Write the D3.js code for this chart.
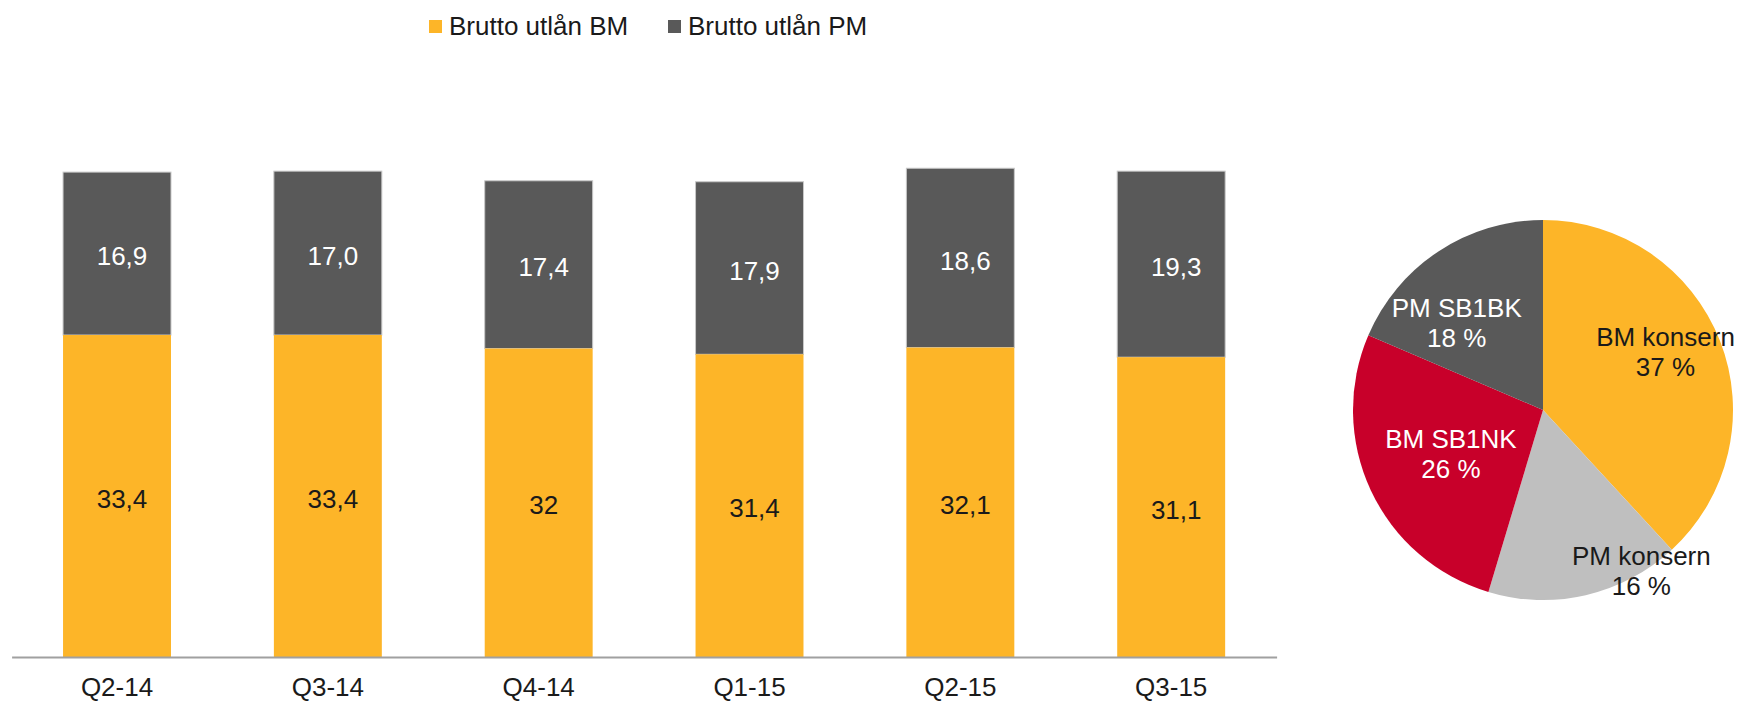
<!DOCTYPE html>
<html>
<head>
<meta charset="utf-8">
<script src="https://cdn.jsdelivr.net/npm/d3@7"></script>
<style>
  body { margin: 0; background: #fff; }
  svg { display: block; font-family: 'Liberation Sans', Arial, sans-serif; }
</style>
</head>
<body>
<main></main>
<script>
// data
const quarters = ['Q2-14', 'Q3-14', 'Q4-14', 'Q1-15', 'Q2-15', 'Q3-15']
const bruttoBM = [33.4, 33.4, 32, 31.4, 32.1, 31.1]
const bruttoPM = [16.9, 17.0, 17.4, 17.9, 18.6, 19.3]
const bmLabels = ['33,4', '33,4', '32', '31,4', '32,1', '31,1']
const pmLabels = ['16,9', '17,0', '17,4', '17,9', '18,6', '19,3']
const seriesNames = ['Brutto utlån BM', 'Brutto utlån PM']
const pieNames = ['BM konsern', 'PM konsern', 'BM SB1NK', 'PM SB1BK']
const pieValues = [37, 16, 26, 18]

const colors = { bm: '#fdb528', pm: '#595959', red: '#c8002a', light: '#bfbfbf' }
const pieColors = [colors.bm, colors.light, colors.red, colors.pm]
const pieTextColors = ['#1a1a1a', '#1a1a1a', '#fff', '#fff']
// label nudges from arc centroid (layout only)
const pieLabelNudge = [[34, -24], [77, 67], [-6, 3], [-34, -9]]

const sizes = { width: 1740, height: 703, font: 26 }

const svg = d3.select('main')
  .append('svg')
  .attr('width', sizes.width)
  .attr('height', sizes.height)

// scales
const x = d3.scaleBand()
  .domain(quarters)
  .range([11.6, 1276.6])
  .paddingInner(0.488)
  .paddingOuter(0.244)
const y = d3.scaleLinear()
  .domain([0, 60])
  .range([657, 657 - 60 * 9.64])

const stacked = quarters.map((q, i) => ({ q, bm: bruttoBM[i], pm: bruttoPM[i], bmLabel: bmLabels[i], pmLabel: pmLabels[i] }))

const bars = svg.append('g')
const groups = bars.selectAll('.bar')
  .data(stacked)
  .enter()
  .append('g')
  .attr('class', 'bar')

groups.append('rect')
  .attr('x', d => x(d.q))
  .attr('width', x.bandwidth())
  .attr('y', d => y(d.bm + d.pm))
  .attr('height', d => y(d.bm) - y(d.bm + d.pm))
  .attr('fill', colors.pm)
  .attr('stroke', '#c8c8c8')
  .attr('stroke-width', 1)

groups.append('rect')
  .attr('x', d => x(d.q))
  .attr('width', x.bandwidth())
  .attr('y', d => y(d.bm))
  .attr('height', d => y(0) - y(d.bm))
  .attr('fill', colors.bm)

groups.append('text')
  .attr('x', d => x(d.q) + x.bandwidth() / 2 + 5)
  .attr('y', d => (y(d.bm) + y(d.bm + d.pm)) / 2)
  .attr('dy', '0.45em')
  .attr('text-anchor', 'middle')
  .attr('fill', '#fff')
  .style('font-size', sizes.font + 'px')
  .text(d => d.pmLabel)

groups.append('text')
  .attr('x', d => x(d.q) + x.bandwidth() / 2 + 5)
  .attr('y', d => (y(0) + y(d.bm)) / 2)
  .attr('dy', '0.45em')
  .attr('text-anchor', 'middle')
  .attr('fill', '#1a1a1a')
  .style('font-size', sizes.font + 'px')
  .text(d => d.bmLabel)

// x axis
const xAxis = svg.append('g')
  .attr('transform', `translate(0,${y(0)})`)
  .call(d3.axisBottom(x).tickSize(0).tickPadding(21))
xAxis.select('.domain')
  .attr('stroke', '#a0a0a0')
  .attr('stroke-width', 2)
xAxis.selectAll('text')
  .attr('fill', '#1a1a1a')
  .style('font-size', sizes.font + 'px')
  .style('font-family', "'Liberation Sans', Arial, sans-serif")

// legend
const legendX = [429, 668]
const legend = svg.append('g')
seriesNames.forEach((name, i) => {
  legend.append('rect')
    .attr('x', legendX[i])
    .attr('y', 20)
    .attr('width', 13)
    .attr('height', 13)
    .attr('fill', i === 0 ? colors.bm : colors.pm)
  legend.append('text')
    .attr('x', legendX[i] + 20)
    .attr('y', 35)
    .attr('fill', '#1a1a1a')
    .style('font-size', sizes.font + 'px')
    .text(name)
})

// pie
const radius = 190
const pieG = svg.append('g')
  .attr('transform', 'translate(1543,410)')
const pie = d3.pie().sort(null).value(d => d.value)
const arcs = pie(pieNames.map((name, i) => ({ name, value: pieValues[i], i })))
const arc = d3.arc().innerRadius(0).outerRadius(radius)

pieG.selectAll('path')
  .data(arcs)
  .enter()
  .append('path')
  .attr('d', arc)
  .attr('fill', d => pieColors[d.data.i])

const labels = pieG.selectAll('.pieLabel')
  .data(arcs)
  .enter()
  .append('text')
  .attr('class', 'pieLabel')
  .attr('text-anchor', 'middle')
  .attr('fill', d => pieTextColors[d.data.i])
  .style('font-size', sizes.font + 'px')
  .attr('transform', d => {
    const c = arc.centroid(d)
    const n = pieLabelNudge[d.data.i]
    return `translate(${c[0] + n[0]},${c[1] + n[1]})`
  })
labels.append('tspan')
  .attr('x', 0)
  .attr('y', -5)
  .text(d => d.data.name)
labels.append('tspan')
  .attr('x', 0)
  .attr('y', 25)
  .text(d => d.data.value + ' %')
</script>
</body>
</html>
